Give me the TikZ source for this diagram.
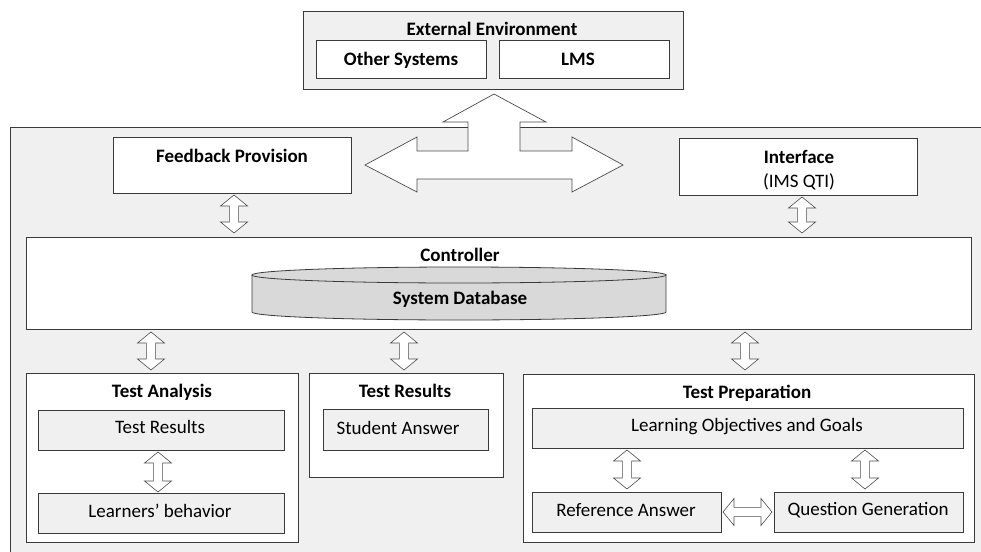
\documentclass[tikz,border=0pt]{standalone}
\usepackage{fontspec}
\setmainfont{Carlito}
\usetikzlibrary{calc}
\definecolor{bgc}{HTML}{F0F0F0}
\definecolor{dbc}{HTML}{D9D9D9}
\definecolor{lnc}{HTML}{3A3A3A}
\newcommand\ahl{11pt}
\newcommand\ahw{13.5pt}
\newcommand\asw{4.6pt}
\begin{document}
\begin{tikzpicture}[x=1pt,y=-1pt,
  font=\fontsize{19}{22}\selectfont,
  box/.style={draw=lnc, line width=0.9pt, anchor=north west, inner sep=0pt, outer sep=0pt},
  wbox/.style={box, fill=white},
  gbox/.style={box, fill=bgc},
  ttl/.style={font=\fontsize{19}{22}\selectfont\bfseries, inner sep=0pt, anchor=base},
  txt/.style={inner sep=0pt, anchor=base},
  harrow/.style={draw=black!70, fill=white, line width=0.6pt, to path={
    -- ($($(\tikztostart)!\ahl!(\tikztotarget)$)!\ahw!90:(\tikztotarget)$)
    -- ($($(\tikztostart)!\ahl!(\tikztotarget)$)!\asw!90:(\tikztotarget)$)
    -- ($($(\tikztotarget)!\ahl!(\tikztostart)$)!\asw!-90:(\tikztostart)$)
    -- ($($(\tikztotarget)!\ahl!(\tikztostart)$)!\ahw!-90:(\tikztostart)$)
    -- (\tikztotarget)
    -- ($($(\tikztotarget)!\ahl!(\tikztostart)$)!\ahw!90:(\tikztostart)$)
    -- ($($(\tikztotarget)!\ahl!(\tikztostart)$)!\asw!90:(\tikztostart)$)
    -- ($($(\tikztostart)!\ahl!(\tikztotarget)$)!\asw!-90:(\tikztotarget)$)
    -- ($($(\tikztostart)!\ahl!(\tikztotarget)$)!\ahw!-90:(\tikztotarget)$)
    -- cycle}},
  bigarrow/.style={draw=black!70, fill=white, line width=0.7pt, line join=miter}]
\useasboundingbox (0,0) rectangle (981,551);

% external environment
\node[gbox, minimum width=380pt, minimum height=78pt] (ext) at (303,11) {};
\node[ttl] (extt) at (492,36) {External Environment};
\node[wbox, minimum width=170pt, minimum height=38pt] (oth) at (316,40) {};
\node[ttl] (otht) at (401,65) {Other Systems};
\node[wbox, minimum width=170pt, minimum height=38pt] (lms) at (499,40) {};
\node[ttl] (lmst) at (578,65) {LMS};

% main system area
\node[gbox, minimum width=990pt, minimum height=440pt] (main) at (10,127) {};

% big three-way arrow
\draw[bigarrow] (494,94) -- (546,122) -- (520,122) -- (520,151) -- (572,151)
  -- (572,137) -- (623,165) -- (572,192) -- (572,179) -- (417,179) -- (417,192)
  -- (365,165) -- (417,137) -- (417,151) -- (468,151) -- (468,122) -- (443,122) -- cycle;

% top boxes
\node[wbox, minimum width=238pt, minimum height=56pt] (fb) at (113,137) {};
\node[ttl] (fbt) at (232,162) {Feedback Provision};
\node[wbox, minimum width=238pt, minimum height=57pt] (intf) at (679,138) {};
\node[ttl] (intft) at (799,163) {Interface};
\node[txt] (intfs) at (799,187) {(IMS QTI)};

% controller
\node[wbox, minimum width=945pt, minimum height=92pt] (ctrl) at (26,237) {};
\node[ttl] (ctrlt) at (460,261) {Controller};
\draw[draw=lnc, line width=0.8pt, fill=dbc] (252,275) -- (252,312)
  arc[start angle=180, end angle=360, x radius=207pt, y radius=8pt] -- (666,275) -- cycle;
\draw[draw=lnc, line width=0.8pt, fill=dbc] (459,275) ellipse [x radius=207pt, y radius=8pt];
\node[ttl] (dbt) at (460,304) {System Database};

% bottom: test analysis
\node[wbox, minimum width=272pt, minimum height=169pt] (ta) at (26,373) {};
\node[ttl] (tat) at (162,397) {Test Analysis};
\node[gbox, minimum width=246pt, minimum height=40pt] (tar) at (38,410) {};
\node[txt] (tart) at (160,433) {Test Results};
\node[gbox, minimum width=246pt, minimum height=40pt] (lb) at (38,493) {};
\node[txt] (lbt) at (160,517) {Learners’ behavior};

% bottom: test results
\node[wbox, minimum width=194pt, minimum height=104pt] (tr) at (309,373) {};
\node[ttl] (trt) at (405,397) {Test Results};
\node[gbox, minimum width=165pt, minimum height=41pt] (sa) at (323,409) {};
\node[txt] (sat) at (398,434) {Student Answer};

% bottom: test preparation
\node[wbox, minimum width=451pt, minimum height=168pt] (tp) at (523,374) {};
\node[ttl] (tpt) at (747,398) {Test Preparation};
\node[gbox, minimum width=431pt, minimum height=40pt] (log) at (532,408) {};
\node[txt] (logt) at (747,431) {Learning Objectives and Goals};
\node[gbox, minimum width=189pt, minimum height=40pt] (ra) at (532,492) {};
\node[txt] (rat) at (626,516) {Reference Answer};
\node[gbox, minimum width=189pt, minimum height=40pt] (qg) at (774,492) {};
\node[txt] (qgt) at (868,515) {Question Generation};

% double arrows
\draw[harrow] ($(fb.south)+(2,2)$) to ($(fb.south|-ctrl.north)+(2,-4)$);
\draw[harrow] ($(intf.south)+(4,2)$) to ($(intf.south|-ctrl.north)+(4,-4)$);
\draw[harrow] ($(ta.north|-ctrl.south)+(-11,3)$) to ($(ta.north)+(-11,-3)$);
\draw[harrow] ($(tr.north|-ctrl.south)+(-2,3)$) to ($(tr.north)+(-2,-3)$);
\draw[harrow] ($(tp.north|-ctrl.south)+(-3.5,3)$) to ($(tp.north)+(-3.5,-4)$);
\draw[harrow] ($(tar.south)+(-3,2)$) to ($(lb.north)+(-3,-1)$);
\draw[harrow] ($(ra.north|-log.south)+(0.5,2)$) to ($(ra.north)+(0.5,-3)$);
\draw[harrow] ($(qg.north|-log.south)+(-3.5,2)$) to ($(qg.north)+(-3.5,-3)$);
\draw[harrow] ($(ra.east)+(2,0)$) to ($(qg.west)+(-2,0)$);
\end{tikzpicture}
\end{document}
